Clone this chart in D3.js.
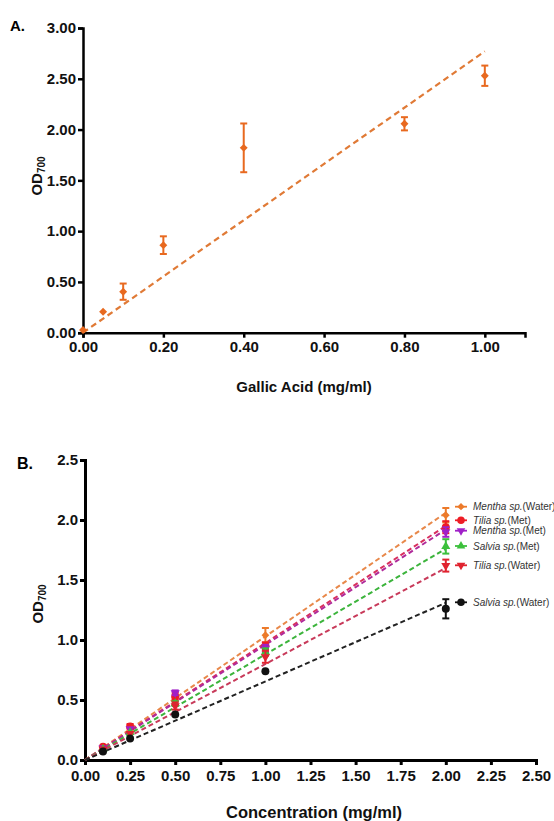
<!DOCTYPE html>
<html>
<head>
<meta charset="utf-8">
<script src="https://cdn.jsdelivr.net/npm/d3@7"></script>
<style>
  html, body { margin: 0; padding: 0; background: #fff; }
  svg { display: block; font-family: "Liberation Sans", Arial, sans-serif; }
</style>
</head>
<body>
<svg id="fig" width="554" height="821"></svg>
<script>
// ---- Panel A: gallic acid standard curve ----
const gallicConc = [0, 0.05, 0.1, 0.2, 0.4, 0.8, 1.0];
const gallicOD   = [0.027, 0.207, 0.404, 0.862, 1.82, 2.057, 2.53];
const gallicErr  = [0, 0, 0.08, 0.087, 0.24, 0.065, 0.10];
const gallicFitSlope = 2.77;
const gallicFitRange = [0, 1.0];
const xTicksA = [0, 0.2, 0.4, 0.6, 0.8, 1.0];
const yTicksA = [0, 0.5, 1.0, 1.5, 2.0, 2.5, 3.0];

// ---- Panel B: plant extracts ----
const concB = [0.1, 0.25, 0.5, 1.0, 2.0];
const seriesNames = ["Mentha sp.|(Water)", "Tilia sp.|(Met)", "Mentha sp.|(Met)", "Salvia sp.|(Met)", "Tilia sp.|(Water)", "Salvia sp.|(Water)"];
const menthaWater = [0.10, 0.24, 0.49, 1.04, 2.04];
const menthaWaterErr = [0.01, 0.01, 0.03, 0.06, 0.06];
const tiliaMet = [0.11, 0.28, 0.53, 0.95, 1.94];
const tiliaMetErr = [0.01, 0.02, 0.03, 0.03, 0.05];
const menthaMet = [0.10, 0.26, 0.56, 0.93, 1.90];
const menthaMetErr = [0.01, 0.01, 0.02, 0.03, 0.04];
const salviaMet = [0.09, 0.23, 0.47, 0.90, 1.78];
const salviaMetErr = [0.01, 0.01, 0.02, 0.03, 0.06];
const tiliaWater = [0.09, 0.22, 0.45, 0.86, 1.62];
const tiliaWaterErr = [0.01, 0.01, 0.03, 0.05, 0.05];
const salviaWater = [0.07, 0.18, 0.38, 0.74, 1.26];
const salviaWaterErr = [0.01, 0.01, 0.01, 0.01, 0.08];
const fitSlopesB = [1.03, 0.975, 0.96, 0.88, 0.80, 0.655];
const xTicksB = [0, 0.25, 0.5, 0.75, 1.0, 1.25, 1.5, 1.75, 2.0, 2.25, 2.5];
const yTicksB = [0, 0.5, 1.0, 1.5, 2.0, 2.5];

const svg = d3.select("#fig");

// ================= Panel A =================
const xA = d3.scaleLinear().domain([0, 1.1]).range([83, 525]);
const yA = d3.scaleLinear().domain([0, 3]).range([332.7, 28]);
const orangeA = "#E8691F";

const gA = svg.append("g");

function styleAxis(g, width, fontSize) {
  g.select(".domain").attr("stroke", "#000").attr("stroke-width", width);
  g.selectAll(".tick line").attr("stroke", "#000").attr("stroke-width", width);
  g.selectAll(".tick text").attr("fill", "#111").attr("font-weight", "bold")
    .attr("font-size", fontSize).attr("font-family", "'Liberation Sans', Arial, sans-serif");
}

gA.append("g").attr("transform", `translate(0,${yA(0)})`)
  .call(d3.axisBottom(xA).tickValues(xTicksA).tickFormat(d3.format(".2f")).tickSizeOuter(0).tickSize(5).tickPadding(4))
  .call(g => styleAxis(g, 2.5, 15));
gA.append("g").attr("transform", `translate(${xA(0)},0)`)
  .call(d3.axisLeft(yA).tickValues(yTicksA).tickFormat(d3.format(".2f")).tickSizeOuter(0).tickSize(5).tickPadding(2))
  .call(g => styleAxis(g, 2.5, 15));

// fit line
gA.append("line")
  .attr("x1", xA(gallicFitRange[0])).attr("y1", yA(gallicFitSlope * gallicFitRange[0]))
  .attr("x2", xA(gallicFitRange[1])).attr("y2", yA(gallicFitSlope * gallicFitRange[1]))
  .attr("stroke", "#E07A36").attr("stroke-width", 2.2).attr("stroke-dasharray", "6,4");

// error bars
const ptsA = gallicConc.map((c, i) => ({ x: c, y: gallicOD[i], e: gallicErr[i] }));
const ebA = gA.append("g").attr("stroke", orangeA).attr("stroke-width", 2);
ptsA.filter(d => d.e > 0).forEach(d => {
  ebA.append("line").attr("x1", xA(d.x)).attr("x2", xA(d.x)).attr("y1", yA(d.y - d.e)).attr("y2", yA(d.y + d.e));
  [d.y - d.e, d.y + d.e].forEach(v => ebA.append("line")
    .attr("x1", xA(d.x) - 3.5).attr("x2", xA(d.x) + 3.5).attr("y1", yA(v)).attr("y2", yA(v)));
});
gA.append("g").selectAll("path").data(ptsA).join("path")
  .attr("d", d3.symbol(d3.symbolDiamond2, 40))
  .attr("transform", d => `translate(${xA(d.x)},${yA(d.y)})`)
  .attr("fill", orangeA);

// labels
svg.append("text").attr("x", 10).attr("y", 31).attr("font-weight", "bold").attr("font-size", 15).text("A.");
svg.append("text").attr("x", 304).attr("y", 392).attr("text-anchor", "middle")
  .attr("font-weight", "bold").attr("font-size", 15).attr("fill", "#111").text("Gallic Acid (mg/ml)");
function odLabel(x, y) {
  const t = svg.append("text").attr("transform", `translate(${x},${y}) rotate(-90)`)
    .attr("text-anchor", "middle").attr("font-weight", "bold").attr("font-size", 15).attr("fill", "#111");
  t.append("tspan").text("OD");
  t.append("tspan").attr("font-size", 10).attr("dy", 3).text("700");
}
odLabel(42, 176);

// ================= Panel B =================
const xB = d3.scaleLinear().domain([0, 2.5]).range([85, 536]);
const yB = d3.scaleLinear().domain([0, 2.5]).range([760, 460]);

const gB = svg.append("g");
gB.append("g").attr("transform", `translate(0,${yB(0)})`)
  .call(d3.axisBottom(xB).tickValues(xTicksB).tickFormat(d3.format(".2f")).tickSizeOuter(0).tickSize(5).tickPadding(5))
  .call(g => styleAxis(g, 3, 15));
gB.append("g").attr("transform", `translate(${xB(0)},0)`)
  .call(d3.axisLeft(yB).tickValues(yTicksB).tickFormat(d3.format(".1f")).tickSizeOuter(0).tickSize(5).tickPadding(2))
  .call(g => styleAxis(g, 3, 15));

const seriesB = [
  { name: seriesNames[0], v: menthaWater, e: menthaWaterErr, slope: fitSlopesB[0], color: "#EC7A2A", line: "#E8884A", sym: d3.symbolDiamond2, size: 38 },
  { name: seriesNames[1], v: tiliaMet, e: tiliaMetErr, slope: fitSlopesB[1], color: "#EE1C25", line: "#D8305E", sym: d3.symbolCircle, size: 50 },
  { name: seriesNames[2], v: menthaMet, e: menthaMetErr, slope: fitSlopesB[2], color: "#A020C8", line: "#B02A9A", sym: d3.symbolTriangle, size: 36, rot: 180 },
  { name: seriesNames[3], v: salviaMet, e: salviaMetErr, slope: fitSlopesB[3], color: "#3CC03C", line: "#3CB43C", sym: d3.symbolTriangle, size: 36 },
  { name: seriesNames[4], v: tiliaWater, e: tiliaWaterErr, slope: fitSlopesB[4], color: "#E0232F", line: "#C83A5A", sym: d3.symbolTriangle, size: 36, rot: 180 },
  { name: seriesNames[5], v: salviaWater, e: salviaWaterErr, slope: fitSlopesB[5], color: "#111111", line: "#222222", sym: d3.symbolCircle, size: 50 }
];

// fit lines (drawn first, under the markers)
seriesB.forEach(s => {
  gB.append("line")
    .attr("x1", xB(0)).attr("y1", yB(0))
    .attr("x2", xB(2.0)).attr("y2", yB(s.slope * 2.0))
    .attr("stroke", s.line).attr("stroke-width", 2).attr("stroke-dasharray", "5,3");
});

// error bars and markers
seriesB.forEach(s => {
  const g = gB.append("g");
  concB.forEach((c, i) => {
    const v = s.v[i], e = s.e[i];
    if (e > 0.015) {
      g.append("line").attr("x1", xB(c)).attr("x2", xB(c)).attr("y1", yB(v - e)).attr("y2", yB(v + e))
        .attr("stroke", s.color).attr("stroke-width", 2);
      [v - e, v + e].forEach(w => g.append("line")
        .attr("x1", xB(c) - 3.5).attr("x2", xB(c) + 3.5).attr("y1", yB(w)).attr("y2", yB(w))
        .attr("stroke", s.color).attr("stroke-width", 2));
    }
    g.append("path").attr("d", d3.symbol(s.sym, s.size))
      .attr("transform", `translate(${xB(c)},${yB(v)}) rotate(${s.rot || 0})`)
      .attr("fill", s.color);
  });
});

// legend
const legendRowsY = [506.7, 520.3, 530.7, 546, 565.3, 602.3];
const legend = svg.append("g");
seriesB.forEach((s, i) => {
  const y = legendRowsY[i];
  legend.append("line").attr("x1", 455).attr("x2", 467).attr("y1", y).attr("y2", y)
    .attr("stroke", s.color).attr("stroke-width", 1.8);
  legend.append("path").attr("d", d3.symbol(s.sym, s.size * 0.9))
    .attr("transform", `translate(461,${y}) rotate(${s.rot || 0})`).attr("fill", s.color);
  const [sp, medium] = s.name.split("|");
  const t = legend.append("text").attr("x", 473).attr("y", y + 3.5)
    .attr("font-size", 10).attr("fill", "#333");
  t.append("tspan").attr("font-style", "italic").text(sp);
  t.append("tspan").text(medium);
});

svg.append("text").attr("x", 17).attr("y", 469).attr("font-weight", "bold").attr("font-size", 16).text("B.");
svg.append("text").attr("x", 314).attr("y", 818).attr("text-anchor", "middle")
  .attr("font-weight", "bold").attr("font-size", 16.5).attr("fill", "#111").text("Concentration (mg/ml)");
odLabel(43, 604);
</script>
</body>
</html>
